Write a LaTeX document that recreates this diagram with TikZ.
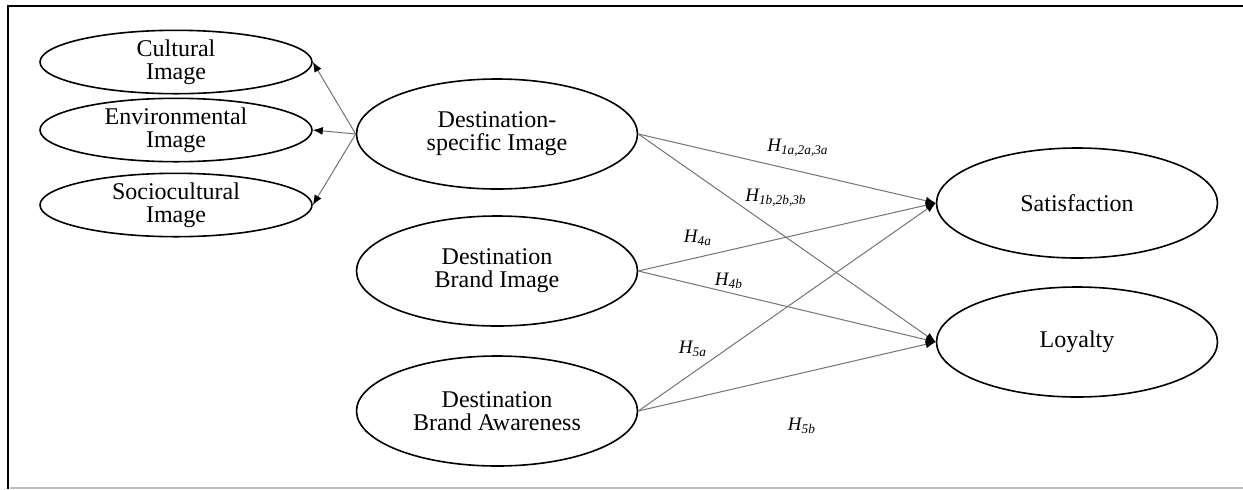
\documentclass[tikz,border=0pt]{standalone}
\usepackage{fontspec}
\setmainfont{Liberation Serif}
\usetikzlibrary{shapes.geometric,arrows.meta}
\begin{document}
\begin{tikzpicture}[x=0.5pt,y=-0.5pt,
  smallell/.style={ellipse,draw,line width=0.8pt,minimum width=136pt,minimum height=30pt,inner sep=0pt,align=center,font=\fontsize{12}{11.5}\selectfont},
  bigell/.style={ellipse,draw,line width=0.8pt,minimum width=140.5pt,minimum height=55pt,inner sep=0pt,align=center,font=\fontsize{12}{11.5}\selectfont},
  conn/.style={draw=black!55,line width=0.5pt,-{Latex[length=5pt,width=4pt,color=black]}},
  hlab/.style={font=\fontsize{9.5}{10}\selectfont\itshape,inner sep=0pt}]
\useasboundingbox (0,0) rectangle (1243,489);
\draw[line width=1.2pt] (1243,6) -- (8,6) -- (8,489);
\draw[black!25,line width=1pt] (10,488) -- (1243,488);
\node[smallell] (cult) at (176,62) {Cultural\\Image};
\node[smallell] (env) at (176,130) {Environmental\\Image};
\node[smallell] (soc) at (176,205) {Sociocultural\\Image};
\node[bigell] (dsi) at (497,134) {Destination-\\specific Image};
\node[bigell] (dbi) at (497,271) {Destination\\Brand Image};
\node[bigell] (dba) at (497,411) {Destination\\Brand Awareness};
\node[bigell] (sat) at (1077,203) {Satisfaction};
\node[bigell] (loy) at (1077,342) {Loyalty};
\draw[conn] (dsi.west) -- (cult.east);
\draw[conn] (dsi.west) -- (env.east);
\draw[conn] (dsi.west) -- (soc.east);
\draw[conn] (dsi.east) -- (sat.west);
\draw[conn] (dbi.east) -- (sat.west);
\draw[conn] (dba.east) -- (sat.west);
\draw[conn] (dsi.east) -- (loy.west);
\draw[conn] (dbi.east) -- (loy.west);
\draw[conn] (dba.east) -- (loy.west);
\node[hlab] (h1a) at (798,148) {H\textsubscript{1a,2a,3a}};
\node[hlab] (h1b) at (776,198) {H\textsubscript{1b,2b,3b}};
\node[hlab] (h4a) at (698,238) {H\textsubscript{4a}};
\node[hlab] (h4b) at (729,281) {H\textsubscript{4b}};
\node[hlab] (h5a) at (693,349) {H\textsubscript{5a}};
\node[hlab] (h5b) at (802,426) {H\textsubscript{5b}};
\end{tikzpicture}
\end{document}
